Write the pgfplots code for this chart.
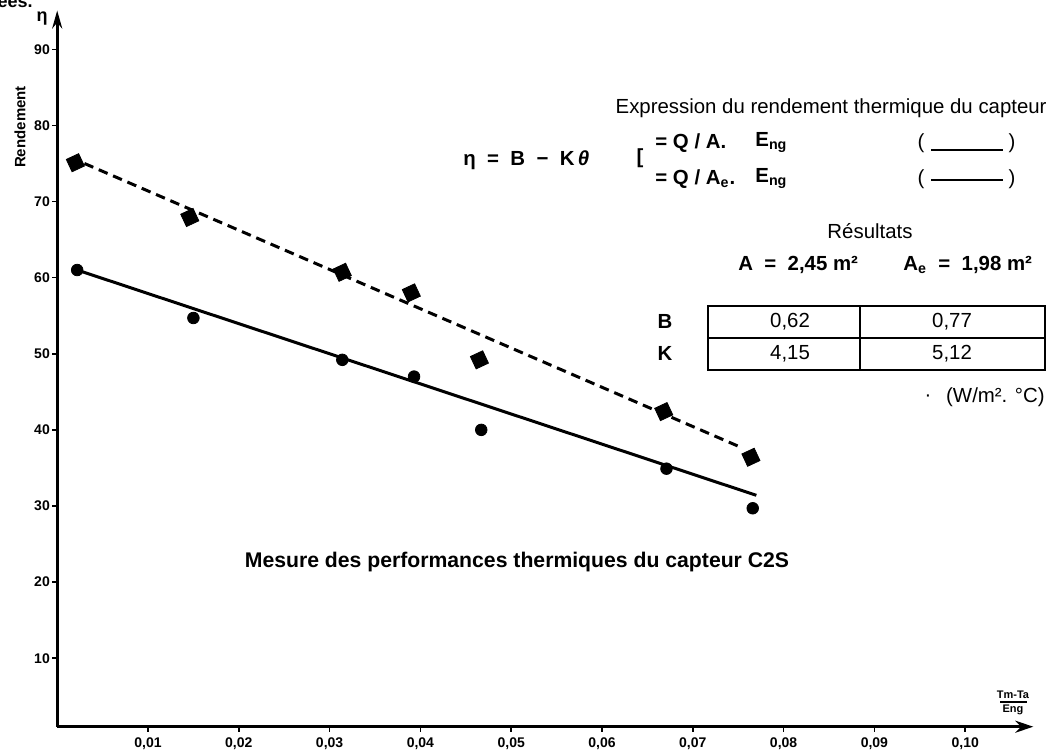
\documentclass[border=0pt]{standalone}
\usepackage{fontspec}
\setmainfont{Liberation Sans}
\usepackage{pgfplots}
\pgfplotsset{compat=1.18}
\usetikzlibrary{arrows.meta}

\begin{document}
\begin{tikzpicture}
\path[use as bounding box] (-28.6pt,-14.15pt) rectangle (500.9pt,363.35pt);
\begin{axis}[
  at={(0,0)}, anchor=south west,
  scale only axis, width=488.05pt, height=358.1pt,
  xmin=0, xmax=0.1075, ymin=1, ymax=95.1,
  clip=false,
  axis x line=bottom, axis y line=left,
  axis line style={line width=1.4pt, black},
  x axis line style={-{Stealth[length=9pt,width=6pt]}},
  y axis line style={-{Stealth[length=9pt,width=5pt]}},
  xtick={0.01,0.02,0.03,0.04,0.05,0.06,0.07,0.08,0.09,0.1},
  xticklabels={{0,01},{0,02},{0,03},{0,04},{0,05},{0,06},{0,07},{0,08},{0,09},{0,10}},
  ytick={10,20,30,40,50,60,70,80,90},
  yticklabels={10,20,30,40,50,60,70,80,90},
  tick label style={font=\bfseries\fontsize{7}{8}\selectfont},
  yticklabel style={inner sep=1pt},
  xticklabel style={inner sep=2pt, yshift=-1pt},
  tick align=outside,
  major tick length=2.5pt,
  tick style={line width=0.8pt, black},
]
% circles (A)
\addplot[only marks, mark=*, mark size=2.9pt, black] coordinates {
  (0.0022,61.0) (0.0150,54.7) (0.0314,49.2) (0.0393,47.0)
  (0.0467,40.0) (0.0671,34.9) (0.0766,29.7)};
% squares (Ae)
\addplot[only marks, mark=square*, mark size=3.4pt, mark options={rotate=25}, black] coordinates {
  (0.0020,75.1) (0.0146,67.9) (0.0314,60.7) (0.0390,58.0)
  (0.0465,49.2) (0.0668,42.4) (0.0764,36.4)};
% fitted lines
\addplot[line width=1.5pt, black] coordinates {(0.0022,61.0) (0.0770,31.4)};
\addplot[line width=1.5pt, black, dash pattern=on 4.8pt off 3pt] coordinates {(0.0030,75.0) (0.0755,37.6)};
\end{axis}

\begin{scope}[shift={(-28.6pt,363.35pt)},x=0.5pt,y=-0.5pt]
\node[font=\bfseries\fontsize{7.5}{8}\selectfont, rotate=90] at (20,127) {Rendement};
\node[font=\bfseries\fontsize{9}{9}\selectfont] at (42,19) {η};
\node[font=\bfseries\fontsize{9}{9}\selectfont, anchor=base east, inner sep=0] at (33,8) {ées.};
% x label fraction
\node[font=\bfseries\fontsize{5.5}{6}\selectfont, inner sep=0] at (1013,695) {Tm-Ta};
\draw[line width=0.7pt] (1000,702) -- (1027,702);
\node[font=\bfseries\fontsize{5.5}{6}\selectfont, inner sep=0] at (1013,710) {Eng};
% expression block
\begin{scope}[every node/.style={font=\fontsize{10.2}{12}\selectfont, inner sep=0}]
\node[anchor=east] at (1047,108) {Expression du rendement thermique du capteur};
\node[anchor=west, font=\bfseries\fontsize{10.2}{12}\selectfont] at (463,160) {η \ = \ B \ − \ K\,\textit{θ}};
\node[font=\bfseries\fontsize{10.2}{12}\selectfont] at (640,158) {[};
\node[anchor=west, font=\bfseries\fontsize{10.2}{12}\selectfont] at (655,143) {= Q / A.};
\node[anchor=west, font=\bfseries\fontsize{10.2}{12}\selectfont] at (755,143) {E\textsubscript{ng}};
\node[anchor=west, font=\bfseries\fontsize{10.2}{12}\selectfont] at (655,179) {= Q / A\textsubscript{e}.};
\node[anchor=west, font=\bfseries\fontsize{10.2}{12}\selectfont] at (755,179) {E\textsubscript{ng}};
\node at (921,143) {(};
\node at (1012,143) {)};
\node at (921,179) {(};
\node at (1012,179) {)};
\node at (870,231) {Résultats};
\node[anchor=west, font=\bfseries\fontsize{10.2}{12}\selectfont] at (738,265) {A \ = \ 2,45 m²};
\node[anchor=west, font=\bfseries\fontsize{10.2}{12}\selectfont] at (903,265) {A\textsubscript{e} \ = \ 1,98 m²};
\node[font=\bfseries\fontsize{10.2}{12}\selectfont] at (665,321) {B};
\node[font=\bfseries\fontsize{10.2}{12}\selectfont] at (665,353) {K};
\node at (790,322) {0,62};
\node at (952,322) {0,77};
\node at (790,354) {4,15};
\node at (952,354) {5,12};
\node[anchor=east] at (1045,397) {(W/m². °C)};
\node at (928,398) {·};
\end{scope}
\draw[line width=0.8pt] (931,150) -- (1003,150);
\draw[line width=0.8pt] (931,180) -- (1003,180);
\draw[line width=1pt] (708,306) rectangle (1045,370);
\draw[line width=0.9pt] (708,338) -- (1045,338);
\draw[line width=0.9pt] (860,306) -- (860,370);
\node[font=\bfseries\fontsize{10.6}{12}\selectfont] at (517,562) {Mesure des performances thermiques du capteur C2S};
\end{scope}
\end{tikzpicture}
\end{document}
